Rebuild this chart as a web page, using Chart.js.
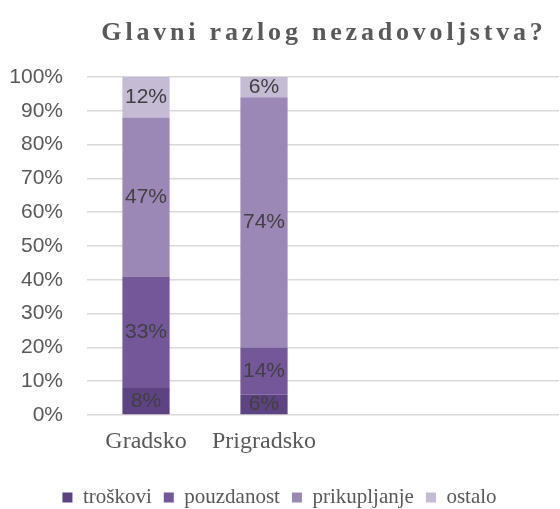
<!DOCTYPE html>
<html>
<head>
<meta charset="utf-8">
<script src="https://cdn.jsdelivr.net/npm/chart.js@4"></script>
<style>
  body { margin: 0; background: #fff; }
  #wrap { width: 560px; height: 509px; }
</style>
</head>
<body>
<div id="wrap"><canvas id="chart"></canvas></div>
<script>
(() => {
  // podaci sa grafikona
  const naslov = "Glavni razlog nezadovoljstva?";
  const kategorije = ["Gradsko", "Prigradsko", "", ""];
  const serije = ["troškovi", "pouzdanost", "prikupljanje", "ostalo"];
  const troskovi = [8, 6, null, null];
  const pouzdanost = [33, 14, null, null];
  const prikupljanje = [47, 74, null, null];
  const ostalo = [12, 6, null, null];
  const yTicks = [0, 10, 20, 30, 40, 50, 60, 70, 80, 90, 100];

  const boje = ["#5d4382", "#735799", "#9c88b7", "#c5bbd5"];
  const vrijednosti = [troskovi, pouzdanost, prikupljanje, ostalo];

  // naslov iznad podrucja grafikona
  const titlePlugin = {
    id: "naslov",
    afterLayout(chart) {
      // legenda malo niže, kao na slici
      if (chart.legend) {
        chart.legend.top += 9;
        chart.legend.bottom += 9;
      }
    },
    afterDraw(chart) {
      const c = chart.ctx;
      const a = chart.chartArea;
      c.save();
      c.font = "bold 26px 'Liberation Serif'";
      c.letterSpacing = "3.8px";
      c.fillStyle = "#595959";
      c.textAlign = "center";
      c.textBaseline = "alphabetic";
      c.fillText(naslov, (a.left + a.right) / 2 + 1, 40);
      c.restore();
    },
  };

  // oznake vrijednosti u sredini segmenata
  const labelPlugin = {
    id: "oznake",
    afterDatasetsDraw(chart) {
      const c = chart.ctx;
      c.save();
      c.font = "21px 'Liberation Sans'";
      c.fillStyle = "#404040";
      c.textAlign = "center";
      c.textBaseline = "middle";
      chart.data.datasets.forEach((ds, i) => {
        chart.getDatasetMeta(i).data.forEach((bar, j) => {
          const v = ds.data[j];
          if (v == null) return;
          const mid = (bar.y + bar.base) / 2;
          c.fillText(v + "%", bar.x, mid);
        });
      });
      c.restore();
    },
  };

  const data = {
    labels: kategorije,
    datasets: serije.map((s, i) => ({
      label: s,
      data: vrijednosti[i],
      backgroundColor: boje[i],
      borderWidth: 0,
      categoryPercentage: 1,
      barPercentage: 0.4,
    })),
  };

  new Chart(document.getElementById("chart"), {
    type: "bar",
    data: data,
    plugins: [titlePlugin, labelPlugin],
    options: {
      responsive: true,
      maintainAspectRatio: false,
      animation: false,
      layout: {
        padding: { top: 77, right: 1, left: 0, bottom: 0 },
      },
      plugins: {
        title: { display: false },
        tooltip: { enabled: false },
        legend: {
          position: "bottom",
          labels: {
            boxWidth: 10,
            boxHeight: 10,
            padding: 12,
            color: "#595959",
            font: { family: "'Liberation Serif'", size: 21 },
          },
        },
      },
      scales: {
        x: {
          stacked: true,
          grid: { display: false, drawTicks: false },
          border: { display: false },
          afterFit(axis) {
            axis.height = 51;
          },
          ticks: {
            color: "#595959",
            padding: 12,
            font: { family: "'Liberation Serif'", size: 24 },
          },
        },
        y: {
          stacked: true,
          min: 0,
          max: 100,
          afterBuildTicks(axis) {
            axis.ticks = yTicks.map((v) => ({ value: v }));
          },
          afterFit(axis) {
            axis.width = 87;
          },
          grid: { color: "#d9d9d9", lineWidth: 1.5, drawTicks: false },
          border: { display: false },
          ticks: {
            color: "#595959",
            padding: 24,
            font: { family: "'Liberation Sans'", size: 21 },
            callback: (v) => v + "%",
          },
        },
      },
    },
  });
})();
</script>
</body>
</html>
